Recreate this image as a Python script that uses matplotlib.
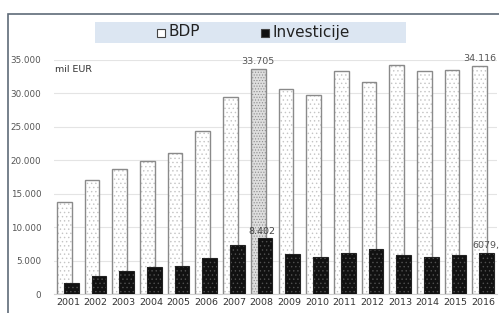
import numpy as np
import matplotlib
matplotlib.use("Agg")
import matplotlib.pyplot as plt
from matplotlib.patches import Rectangle
from matplotlib.ticker import FuncFormatter

plt.rcParams['hatch.linewidth'] = 0.5

years = [str(y) for y in range(2001, 2017)]
bdp = [13716, 17096, 18742, 19893, 21044, 24380, 29420, 33705,
       30617, 29765, 33355, 31709, 34207, 33305, 33455, 34116]
investicije = [1690, 2737, 3395, 4038, 4138, 5385, 7374, 8402,
               5983, 5489, 6132, 6731, 5883, 5489, 5883, 6079]
yticks = [0, 5000, 10000, 15000, 20000, 25000, 30000, 35000]

fig = plt.figure(figsize=(4.99, 3.13), dpi=100)
# outer frame
fig.patches.append(Rectangle((8/499, -0.1), 1.0, (313-14)/313 + 0.1,
                             transform=fig.transFigure, fill=False,
                             edgecolor='#5f6b78', linewidth=1.2))
# legend band
fig.patches.append(Rectangle((95/499, (313-43)/313), 311/499, 21/313,
                             transform=fig.transFigure, facecolor='#dce6f2',
                             edgecolor='none'))

ax = fig.add_axes([54/499, 19/313, 443/499, 234/313])
x = np.arange(len(years))
w = 0.53

for i in range(len(years)):
    if i == 7:
        ax.bar(x[i] - 0.125, bdp[i], w, color='#dedede', edgecolor='#8c8c8c',
               hatch='......', linewidth=0, zorder=2)
    else:
        ax.bar(x[i] - 0.125, bdp[i], w, color='white', edgecolor='#c4c4c4',
               hatch='....', linewidth=0, zorder=2)
    ax.bar(x[i] - 0.125, bdp[i], w, color='none', edgecolor='#8a8a8a',
           linewidth=1.0, zorder=3)
ax.bar(x + 0.125, investicije, w, color='#111111', edgecolor='#505050',
       hatch='....', linewidth=0, zorder=4)
ax.bar(x + 0.125, investicije, w, color='none', edgecolor='#222222',
       linewidth=0.8, zorder=5)

ax.set_xlim(-0.5, len(years) - 0.5)
ax.set_ylim(0, 35000)
ax.set_yticks(yticks)
ax.yaxis.set_major_formatter(FuncFormatter(lambda v, p: f"{int(v):,}".replace(",", ".")))
ax.set_xticks(x)
ax.set_xticklabels(years)
ax.tick_params(axis='y', length=0, pad=9, labelsize=6.3, labelcolor='#555555')
ax.tick_params(axis='x', length=0, pad=3, labelsize=6.8, labelcolor='#333333')
ax.grid(axis='y', color='#e4e4e4', linewidth=0.8, zorder=0)
ax.set_axisbelow(True)
for s in ['top', 'right', 'left']:
    ax.spines[s].set_visible(False)
ax.spines['bottom'].set_color('#d0d0d0')

ax.text(-0.45, 33600, 'mil EUR', fontsize=6.8, color='#333333', va='center', ha='left')
ax.text(x[7] - 0.125, bdp[7] + 400, '33.705', fontsize=6.8, color='#555555',
        ha='center', va='bottom')
ax.text(x[15] - 0.125, bdp[15] + 500, '34.116', fontsize=6.8, color='#555555',
        ha='center', va='bottom')
ax.text(x[7], investicije[7] + 300, '8.402', fontsize=6.8, color='#444444',
        ha='center', va='bottom')
ax.text(x[15] + 0.6, investicije[15] + 500, '6079,', fontsize=6.8, color='#555555',
        ha='right', va='bottom', clip_on=False)

# legend entries
fig.patches.append(Rectangle((157/499, (313-36.5)/313), 8/499, 8/313,
                             transform=fig.transFigure, facecolor='white',
                             edgecolor='#444444', linewidth=0.8))
fig.text(168/499, (313-32)/313, 'BDP', fontsize=11, color='#222222', va='center')
fig.patches.append(Rectangle((261/499, (313-36.5)/313), 8/499, 8/313,
                             transform=fig.transFigure, facecolor='#111111',
                             edgecolor='#444444', linewidth=0.8))
fig.text(272/499, (313-32)/313, 'Investicije', fontsize=11, color='#222222', va='center')

fig.savefig('out.png', dpi=100)
